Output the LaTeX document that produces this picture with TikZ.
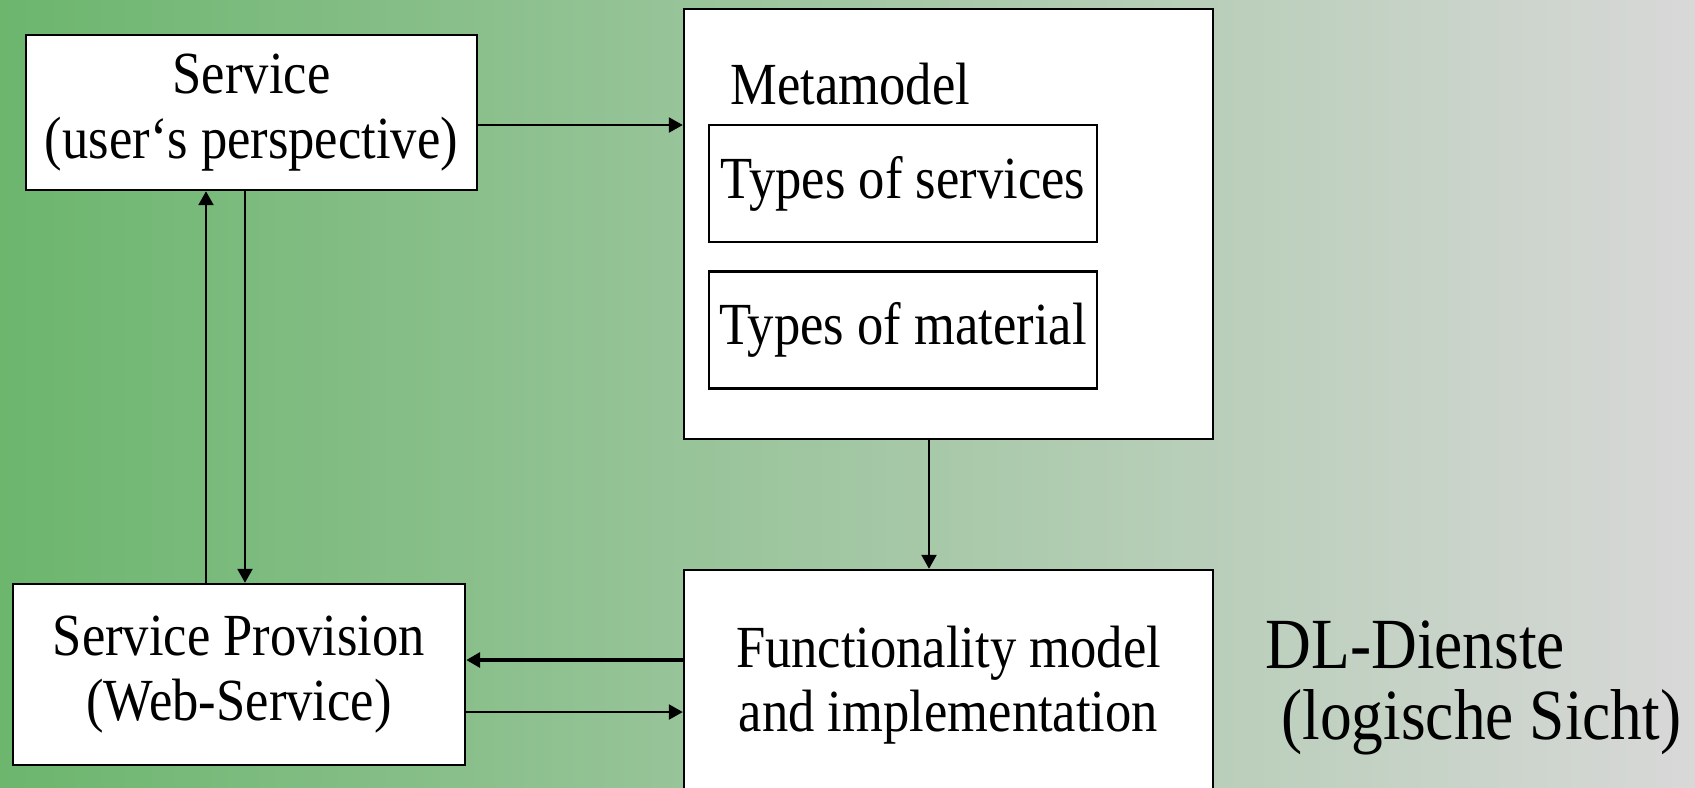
\documentclass[tikz,border=0pt]{standalone}
\usepackage{fontspec}
\setmainfont{Liberation Serif}[FakeStretch=0.88]
\usetikzlibrary{arrows.meta, positioning, calc}

\definecolor{bgleft}{RGB}{108,182,110}
\definecolor{bgright}{RGB}{216,216,216}

\begin{document}
\begin{tikzpicture}[
    % Define styles
    box/.style={rectangle, draw=black, line width=0.7pt, fill=white, inner sep=0pt, align=center, font=\fontsize{17}{18.4}\selectfont},
    bigbox/.style={box, minimum width=5.29cm},
    typebox/.style={box, minimum width=3.88cm, minimum height=1.17cm},
    arrow/.style={-{Triangle[length=1.4mm, width=1.5mm]}, line width=0.7pt},
    heavy/.style={arrow, line width=1.1pt},
    ]

    % Background
    \useasboundingbox (0,0) rectangle (16.95,-7.87);
    \clip (0,0) rectangle (16.95,-7.87);
    \fill[left color=bgleft, right color=bgright] (0,0) rectangle (16.95,-7.87);

    % Main nodes
    \node[box, minimum width=4.51cm, minimum height=1.55cm] (serv) at (2.515,-1.125) {Service\\(user‘s perspective)};
    \node[box, minimum width=4.52cm, minimum height=1.81cm] (prov) at (2.39,-6.745) {Service Provision\\(Web-Service)};

    % Metamodel with its two parts
    \node[bigbox, minimum height=4.30cm] (meta) at (9.485,-2.24) {};
    \node[anchor=west, inner sep=0pt, font=\fontsize{17}{18.4}\selectfont] (metalabel) at (7.30,-0.84) {Metamodel};
    \node[typebox] (tserv) at (9.03,-1.835) {Types of services};
    \node[typebox, below=0.27cm of tserv] (tmat) {Types of material};

    % Functionality model
    \node[bigbox, minimum height=2.30cm] (func) at (9.485,-6.85) {Functionality model\\and implementation};

    % Side label
    \node[anchor=west, inner sep=0pt, align=left, font=\fontsize{20.5}{20}\selectfont] (dl) at (12.65,-6.88) {DL-Dienste\\\hspace*{4.5pt}(logische Sicht)};

    % Arrows
    \draw[arrow] ([yshift=-0.125cm]serv.east) -- ([yshift=-0.125cm]serv.east -| meta.west);
    \draw[arrow] ([xshift=-0.33cm]prov.north) -- ([xshift=-0.33cm]prov.north |- serv.south);
    \draw[arrow] ([xshift=0.06cm]prov.north |- serv.south) -- ([xshift=0.06cm]prov.north);
    \draw[arrow] ([xshift=-0.195cm]meta.south) -- ([xshift=-0.195cm]func.north);
    \draw[heavy] ([yshift=0.145cm]prov.east -| func.west) -- ([yshift=0.145cm]prov.east);
    \draw[arrow] ([yshift=-0.375cm]prov.east) -- ([yshift=-0.375cm]prov.east -| func.west);

\end{tikzpicture}
\end{document}
